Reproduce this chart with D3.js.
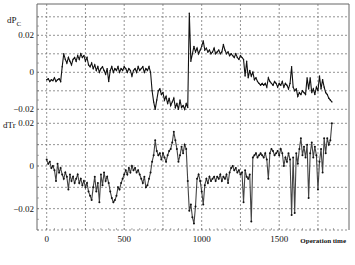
<!DOCTYPE html>
<html><head><meta charset="utf-8">
<script src="https://cdn.jsdelivr.net/npm/d3@7/dist/d3.min.js"></script>
<style>html,body{margin:0;padding:0;background:#fff;}svg{display:block;}</style>
</head><body><svg id="c" width="355" height="265"></svg>
<script>
const timeStep = 10;
const xTicks = [0, 500, 1000, 1500];
const xGrid = [0, 250, 500, 750, 1000, 1250, 1500, 1750];
const upperTicks = [0.02, 0, -0.02];
const upperGrid = [0.03, 0.02, 0.01, 0, -0.01, -0.02];
const lowerTicks = [0.02, 0, -0.02];
const lowerGrid = [0.02, 0.01, 0, -0.01, -0.02, -0.03];
const dPc = [
 -0.004,-0.0035,-0.005,-0.004,-0.0045,-0.003,-0.005,-0.004,-0.0035,-0.005,
 0.003,0.010,0.007,0.005,0.008,0.006,0.004,0.007,0.008,0.006,
 0.009,0.007,0.010,0.008,0.009,0.006,0.008,0.004,0.003,0.005,
 0.002,0.004,0.001,0.003,0.000,0.002,0.003,0.001,-0.001,0.002,
 -0.005,0.001,0.003,0.000,0.002,0.001,0.003,0.000,0.002,0.001,
 0.003,0.002,0.000,0.002,0.001,-0.002,0.001,0.002,0.000,0.003,
 0.001,0.002,0.003,0.000,0.002,0.001,0.003,0.000,-0.010,-0.016,
 -0.020,-0.015,-0.010,-0.009,-0.012,-0.011,-0.015,-0.013,-0.017,-0.014,
 -0.018,-0.016,-0.014,-0.019,-0.017,-0.020,-0.015,-0.019,-0.018,-0.020,
 -0.017,-0.019,0.032,0.006,0.010,0.014,0.011,0.013,0.010,0.012,
 0.014,0.017,0.012,0.013,0.011,0.012,0.010,0.011,0.013,0.010,
 0.011,0.012,0.010,0.011,0.015,0.012,0.010,0.011,0.009,0.010,
 0.009,0.008,0.010,0.008,0.007,0.009,0.008,0.007,-0.002,0.006,
 -0.003,0.001,-0.002,0.000,-0.004,-0.003,-0.005,-0.006,-0.007,-0.006,
 -0.007,-0.006,-0.008,-0.003,-0.005,-0.006,-0.007,-0.005,-0.006,-0.008,
 -0.006,-0.007,-0.005,-0.008,-0.006,-0.007,-0.009,-0.006,0.003,-0.008,
 -0.010,-0.009,-0.013,-0.011,-0.012,-0.010,-0.011,-0.012,-0.003,-0.009,
 -0.003,-0.011,-0.009,-0.012,-0.008,-0.010,-0.002,-0.009,-0.004,-0.008,
 -0.011,-0.012,-0.014,-0.015,-0.016
];
const dTr = [
 0.003,0.001,0.002,-0.001,0.000,-0.002,-0.007,0.001,-0.003,-0.001,
 -0.004,-0.006,-0.003,-0.005,-0.011,-0.004,-0.007,-0.005,-0.008,-0.006,
 -0.004,-0.008,-0.006,-0.009,-0.007,-0.010,-0.008,-0.012,-0.014,-0.016,
 -0.010,-0.005,-0.012,-0.008,-0.017,-0.004,-0.009,-0.003,-0.007,-0.005,
 -0.008,-0.012,-0.015,-0.017,-0.016,-0.014,-0.010,-0.011,-0.008,-0.006,
 -0.004,-0.002,-0.004,-0.001,-0.003,0.000,-0.002,-0.001,-0.003,-0.002,
 -0.004,-0.006,-0.008,-0.005,-0.010,-0.009,-0.006,-0.003,0.002,0.005,
 0.012,0.007,0.005,0.006,0.003,0.006,0.004,0.002,0.005,0.007,
 0.008,0.011,0.016,0.012,0.008,0.002,0.005,0.009,0.006,0.010,
 0.008,-0.007,-0.021,-0.018,-0.024,-0.027,-0.019,-0.006,-0.004,-0.007,
 -0.012,-0.018,-0.009,-0.006,-0.008,-0.005,-0.007,-0.006,-0.005,-0.007,
 -0.005,-0.006,-0.004,-0.007,-0.005,-0.006,-0.004,-0.008,-0.003,-0.001,
 0.000,-0.002,-0.001,-0.003,-0.002,-0.004,-0.003,-0.017,-0.002,-0.005,
 -0.006,-0.004,-0.026,0.004,0.005,0.006,0.004,0.005,0.006,0.005,
 0.004,0.006,0.003,-0.006,0.006,0.008,0.007,0.005,0.006,0.007,
 0.005,0.008,0.006,0.000,0.004,0.002,0.006,0.003,-0.023,0.004,
 -0.022,0.006,0.001,0.008,0.013,0.005,0.009,0.004,0.010,-0.015,
 0.006,0.011,0.004,0.009,0.005,-0.011,0.002,0.008,-0.003,0.013,
 0.006,0.013,0.010,0.012,0.020
];

const svg = d3.select('#c');
const L = 37, R = 349, T = 4, B = 230;
const x = d3.scaleLinear().domain([0, 1000]).range([46.7, 201.7]);
const yU = d3.scaleLinear().domain([0.02, -0.02]).range([35.3, 109.3]);
const yL = d3.scaleLinear().domain([0.02, -0.03]).range([123.3, 230]);
const serif = "'Liberation Serif','DejaVu Serif',serif";

svg.append('rect').attr('width',355).attr('height',265).attr('fill','#fff');

const grid = svg.append('g').attr('stroke','#777').attr('stroke-width',0.8).attr('stroke-dasharray','2,2');
xGrid.forEach(v => grid.append('line').attr('x1',x(v)).attr('x2',x(v)).attr('y1',T).attr('y2',B));
upperGrid.forEach(v => grid.append('line').attr('x1',L).attr('x2',R).attr('y1',yU(v)).attr('y2',yU(v)));
lowerGrid.forEach(v => grid.append('line').attr('x1',L).attr('x2',R).attr('y1',yL(v)).attr('y2',yL(v)));

svg.append('path').attr('d',`M${L},${B}V${T}H${R}V${B}`).attr('fill','none').attr('stroke','#666').attr('stroke-width',1);
const tk = svg.append('g').attr('stroke','#777').attr('stroke-width',0.6);
d3.range(0, 1900, 50).forEach(v => tk.append('line').attr('x1',x(v)).attr('x2',x(v)).attr('y1',B).attr('y2',B-2));
d3.range(-0.02, 0.0301, 0.005).forEach(v => tk.append('line').attr('x1',L).attr('x2',L+2).attr('y1',yU(v)).attr('y2',yU(v)));
d3.range(-0.03, 0.0201, 0.005).forEach(v => tk.append('line').attr('x1',L).attr('x2',L+2).attr('y1',yL(v)).attr('y2',yL(v)));

const fmt = v => v === 0 ? '0' : d3.format('.2f')(v);
const lab = svg.append('g').attr('font-family',serif).attr('font-size',9).attr('fill','#111');
upperTicks.forEach(v => lab.append('text').attr('x',34).attr('y',yU(v)+3).attr('text-anchor','end').text(fmt(v)));
lowerTicks.forEach(v => lab.append('text').attr('x',34).attr('y',yL(v)+3).attr('text-anchor','end').text(fmt(v)));
xTicks.forEach(v => lab.append('text').attr('x',x(v)).attr('y',242).attr('text-anchor','middle').text(v));

const t1 = lab.append('text').attr('x',7).attr('y',23);
t1.append('tspan').text('dP');
t1.append('tspan').attr('font-size',7).attr('dy',3).text('C');
lab.append('text').attr('x',3).attr('y',128).text('dTr');
svg.append('text').attr('x',346).attr('y',243).attr('text-anchor','end').attr('font-family',serif)
  .attr('font-size',7).attr('font-weight','bold').attr('fill','#111').text('Operation time');

const lineU = d3.line().x((d,i) => x(i*timeStep)).y(d => yU(d));
const lineL = d3.line().x((d,i) => x(i*timeStep)).y(d => yL(d));
svg.append('path').datum(dPc).attr('d',lineU).attr('fill','none').attr('stroke','#111').attr('stroke-width',1.1);
svg.append('path').datum(dTr).attr('d',lineL).attr('fill','none').attr('stroke','#444').attr('stroke-width',1.1);
svg.append('g').selectAll('circle').data(dTr).join('circle')
  .attr('cx',(d,i) => x(i*timeStep)).attr('cy',d => yL(d)).attr('r',1).attr('fill','#111');
svg.append('g').selectAll('circle').data(dPc).join('circle')
  .attr('cx',(d,i) => x(i*timeStep)).attr('cy',d => yU(d)).attr('r',0.7).attr('fill','#111');
</script></body></html>
